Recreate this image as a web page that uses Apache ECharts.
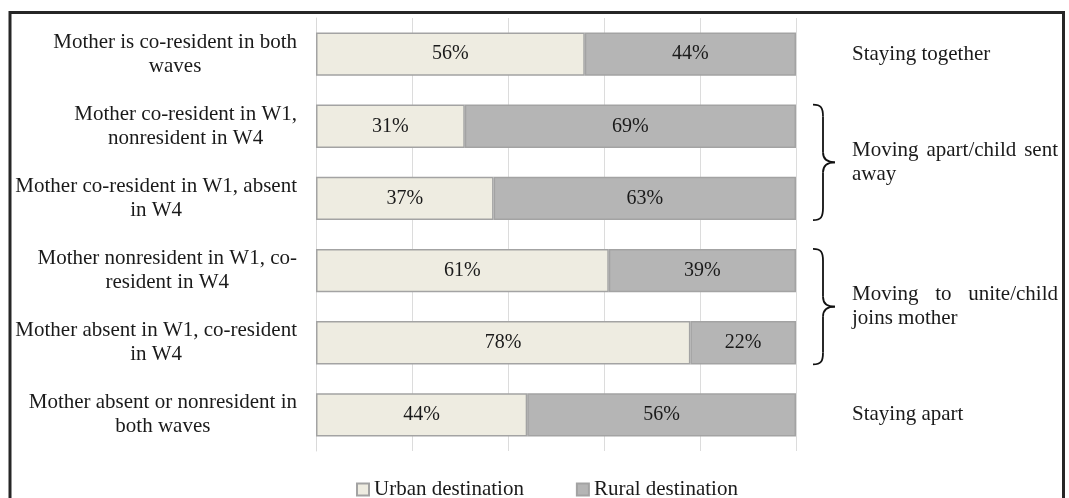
<!DOCTYPE html>
<html>
<head>
<meta charset="utf-8">
<script src="https://cdn.jsdelivr.net/npm/echarts@6/dist/echarts.min.js"></script>
<style>
html,body{margin:0;padding:0;background:#fff;}
#chart{width:1069px;height:498px;}
</style>
</head>
<body>
<div id="chart"></div>
<script>
const categories = [
  'Mother is co-resident in both\nwaves',
  'Mother co-resident in W1,\nnonresident in W4',
  'Mother co-resident in W1, absent\nin W4',
  'Mother nonresident in W1, co-\nresident in W4',
  'Mother absent in W1, co-resident\nin W4',
  'Mother absent or nonresident in\nboth waves'
];
const urbanValues = [56, 31, 37, 61, 78, 44];
const ruralValues = [44, 69, 63, 39, 22, 56];
const seriesNames = ['Urban destination', 'Rural destination'];
const groupLabels = [
  { lines: ['Staying together'], from: 0, to: 0, brace: false },
  { lines: ['Moving apart/child sent', 'away'], from: 1, to: 2, brace: true },
  { lines: ['Moving to unite/child', 'joins mother'], from: 3, to: 4, brace: true },
  { lines: ['Staying apart'], from: 5, to: 5, brace: false }
];

const FONT = "'Liberation Serif', 'DejaVu Serif', serif";
const TXT = '#1a1a1a';
const chart = echarts.init(document.getElementById('chart'));

const barLabel = {
  show: true, position: 'inside', formatter: '{c}%',
  fontFamily: FONT, fontSize: 20, color: TXT
};
const option = {
  animation: false,
  backgroundColor: '#fff',
  grid: { left: 316, right: 273, top: 18, bottom: 47 },
  legend: {
    data: seriesNames, left: 351, top: 474,
    itemWidth: 12, itemHeight: 12, itemGap: 52, icon: 'rect',
    textStyle: { fontFamily: FONT, fontSize: 21, color: TXT }
  },
  xAxis: {
    type: 'value', min: 0, max: 100, interval: 20,
    axisLabel: { show: false }, axisLine: { show: false }, axisTick: { show: false },
    splitLine: { show: true, lineStyle: { color: '#dcdcdc', width: 1 } }
  },
  yAxis: {
    type: 'category', data: categories, inverse: true,
    axisLine: { show: true, lineStyle: { color: '#d9d9d9', width: 1 } },
    axisTick: { show: false }, splitLine: { show: false },
    axisLabel: {
      margin: 19, align: 'right',
      formatter: function (v) {
        return v.split('\n').map(function (l) { return '{c|' + l + '}'; }).join('\n');
      },
      rich: { c: { align: 'center', fontFamily: FONT, fontSize: 21, color: TXT, lineHeight: 24 } }
    }
  },
  series: [
    {
      name: seriesNames[0], type: 'bar', stack: 'total', data: urbanValues, barWidth: '60%',
      itemStyle: { color: '#EEECE1', borderColor: '#a3a3a3', borderWidth: 1.5 },
      label: barLabel
    },
    {
      name: seriesNames[1], type: 'bar', stack: 'total', data: ruralValues, barWidth: '60%',
      itemStyle: { color: '#B5B5B5', borderColor: '#a3a3a3', borderWidth: 1.5 },
      label: barLabel
    }
  ]
};
chart.setOption(option);

// annotations positioned from the category axis
const ctx = document.createElement('canvas').getContext('2d');
ctx.font = '21px ' + FONT;
const textX = 852, textRight = 1058;
const graphics = [];
graphics.push({
  type: 'rect', shape: { x: 10, y: 12.5, width: 1053.5, height: 600 },
  style: { fill: null, stroke: '#262626', lineWidth: 3 }, silent: true, z: 100
});
const y0 = chart.convertToPixel({ yAxisIndex: 0 }, categories[0]);
const y1 = chart.convertToPixel({ yAxisIndex: 0 }, categories[1]);
const band = y1 - y0;
const half = band * 0.6 / 2;
const braceStyle = { fill: null, stroke: '#111', lineWidth: 1.8 };
function curve(xa, ya, c1x, c1y, c2x, c2y, xb, yb) {
  graphics.push({
    type: 'bezierCurve',
    shape: { x1: xa, y1: ya, cpx1: c1x, cpy1: c1y, cpx2: c2x, cpy2: c2y, x2: xb, y2: yb },
    style: braceStyle, silent: true
  });
}
function seg(xa, ya, xb, yb) {
  graphics.push({
    type: 'line', shape: { x1: xa, y1: ya, x2: xb, y2: yb },
    style: braceStyle, silent: true
  });
}
groupLabels.forEach(function (g) {
  const yTop = chart.convertToPixel({ yAxisIndex: 0 }, categories[g.from]) - half;
  const yBot = chart.convertToPixel({ yAxisIndex: 0 }, categories[g.to]) + half;
  const yM = (yTop + yBot) / 2;
  if (g.brace) {
    const x0 = 813, x1 = 823, xt = 835;
    curve(x0, yTop, x0 + 8, yTop, x1, yTop + 3, x1, yTop + 12);
    seg(x1, yTop + 12, x1, yM - 10);
    curve(x1, yM - 10, x1, yM - 3, x1 + 5, yM, xt, yM);
    curve(xt, yM, x1 + 5, yM, x1, yM + 3, x1, yM + 10);
    seg(x1, yM + 10, x1, yBot - 12);
    curve(x1, yBot - 12, x1, yBot - 3, x0 + 8, yBot, x0, yBot);
  }
  const n = g.lines.length;
  g.lines.forEach(function (line, i) {
    const y = yM + (i - (n - 1) / 2) * 24;
    const justify = n > 1 && i < n - 1;
    if (justify) {
      const words = line.split(' ');
      const widths = words.map(function (w) { return ctx.measureText(w).width; });
      const total = widths.reduce(function (a, b) { return a + b; }, 0);
      const gap = (textRight - textX - total) / (words.length - 1);
      let x = textX;
      words.forEach(function (w, k) {
        graphics.push({
          type: 'text', x: x, y: y,
          style: { text: w, fontFamily: FONT, fontSize: 21, fill: TXT, verticalAlign: 'middle', align: 'left' },
          silent: true
        });
        x += widths[k] + gap;
      });
    } else {
      graphics.push({
        type: 'text', x: textX, y: y,
        style: { text: line, fontFamily: FONT, fontSize: 21, fill: TXT, verticalAlign: 'middle', align: 'left' },
        silent: true
      });
    }
  });
});
chart.setOption({ graphic: graphics });
</script>
</body>
</html>
